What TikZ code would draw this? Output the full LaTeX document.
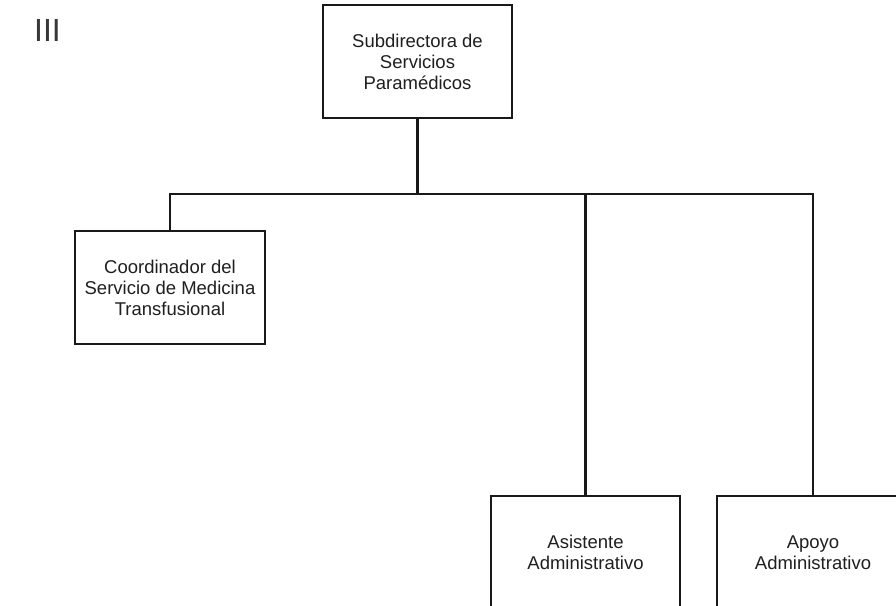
\documentclass[tikz,border=0pt]{standalone}
\usepackage{fontspec}
\setmainfont{Liberation Sans}
\begin{document}
\begin{tikzpicture}[x=1pt,y=-1pt,
  unit/.style={draw=black!90, line width=2.1pt, fill=white, minimum height=113pt,
    inner sep=0pt, align=center, font=\fontsize{18.5}{21}\selectfont, text=black!88},
  link/.style={draw=black!90, line width=2.1pt}]
\useasboundingbox (0,0) rectangle (896,605);
\clip (0,0) rectangle (896,605);
\fill[white] (0,0) rectangle (896,605);

% page marker
\node[anchor=base west, inner sep=0pt, font=\fontsize{32}{32}\selectfont, text=black!78] (mark) at (34,41) {III};

% units
\node[unit, minimum width=189pt] (top)   at (417.5,61.5)  {Subdirectora de\\Servicios\\Paramédicos};
\node[unit, minimum width=190pt] (coord) at (170,287.5)   {Coordinador del\\Servicio de Medicina\\Transfusional};
\node[unit, minimum width=189pt] (asist) at (585.5,552.5) {Asistente\\Administrativo};
\node[unit, minimum width=192pt] (apoyo) at (813,552.5)   {Apoyo\\Administrativo};

% connectors
\coordinate (bus) at (0,194);
\draw[link] (top.south) -- (top.south |- bus);
\draw[link] (coord.north) -- (coord.north |- bus) -- (apoyo.north |- bus) -- (apoyo.north);
\draw[link] (asist.north) -- (asist.north |- bus);
\end{tikzpicture}
\end{document}
